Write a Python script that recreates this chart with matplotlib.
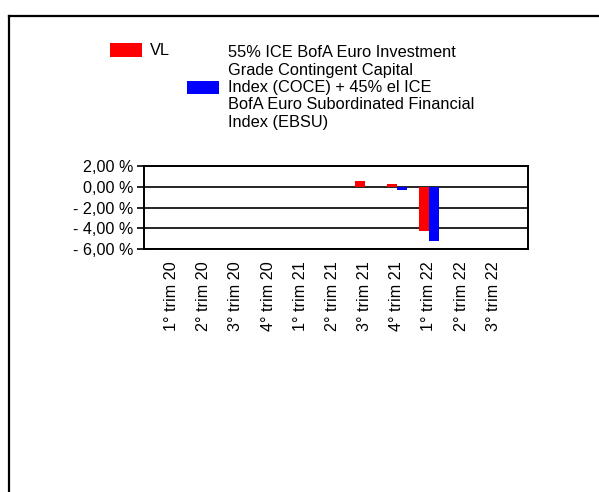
import matplotlib
matplotlib.use("Agg")
import matplotlib.pyplot as plt
from matplotlib.patches import Rectangle
from matplotlib.lines import Line2D
from matplotlib.ticker import FuncFormatter

plt.rcParams['font.family'] = ['Liberation Sans', 'DejaVu Sans']

# quarters and returns (%)
quarters = ["1° trim 20", "2° trim 20", "3° trim 20", "4° trim 20",
            "1° trim 21", "2° trim 21", "3° trim 21", "4° trim 21",
            "1° trim 22", "2° trim 22", "3° trim 22"]
vl = [0, 0, 0, 0, 0, 0, 0.55, 0.26, -4.24, 0, 0]
bench = [0, 0, 0, 0, 0, 0, 0, -0.32, -5.23, 0, 0]

series_names = ["VL",
                "55% ICE BofA Euro Investment\nGrade Contingent Capital\n"
                "Index (COCE) + 45% el ICE\nBofA Euro Subordinated Financial\n"
                "Index (EBSU)"]

W, H = 599, 492
fig = plt.figure(figsize=(W / 100, H / 100), dpi=100)

def fx(x):
    return x / W

def fy(y):
    return 1 - y / H

# outer frame (left and top edges visible)
fig.add_artist(Line2D([fx(8.5), fx(8.5)], [0, fy(15.5)], transform=fig.transFigure,
                      color='black', lw=1.6))
fig.add_artist(Line2D([fx(8.5), 1], [fy(15.5), fy(15.5)], transform=fig.transFigure,
                      color='black', lw=1.6))

# legend drawn by hand
fig.add_artist(Rectangle((fx(110), fy(57)), 32 / W, 14 / H, transform=fig.transFigure,
                         facecolor='#ff0000', edgecolor='none'))
fig.text(fx(150), fy(50.5), series_names[0], fontsize=11.8, va='center', ha='left')
fig.add_artist(Rectangle((fx(187), fy(93.5)), 32 / W, 13 / H, transform=fig.transFigure,
                         facecolor='#0000ff', edgecolor='none'))
fig.text(fx(228), fy(87.5), series_names[1], fontsize=11.8, va='center', ha='left',
         linespacing=1.2)

ax = fig.add_axes([fx(144), fy(249), 384 / W, 83 / H])

x = list(range(len(quarters)))
bw = 0.31
ax.bar([i - bw / 2 for i in x], vl, width=bw, color='#ff0000', zorder=3)
ax.bar([i + bw / 2 for i in x], bench, width=bw, color='#0000ff', zorder=3)

ax.set_ylim(-6, 2)
ax.set_xlim(-0.86, 11.08)
ax.set_yticks([-6, -4, -2, 0, 2])

def pct(v, pos):
    s = f"{abs(v):.2f}".replace('.', ',') + " %"
    return ("- " + s) if v < 0 else s

ax.yaxis.set_major_formatter(FuncFormatter(pct))
ax.set_xticks(x)
ax.set_xticklabels(quarters, rotation=90, fontsize=11.6)
ax.tick_params(axis='x', length=0, pad=9)
ax.tick_params(axis='y', length=5, width=1.2, pad=3, labelsize=11.6, direction='out')
ax.grid(axis='y', color='black', lw=1.2, zorder=1)
for sp in ax.spines.values():
    sp.set_color('black')
    sp.set_linewidth(1.4)

fig.savefig("out.png", dpi=100)
